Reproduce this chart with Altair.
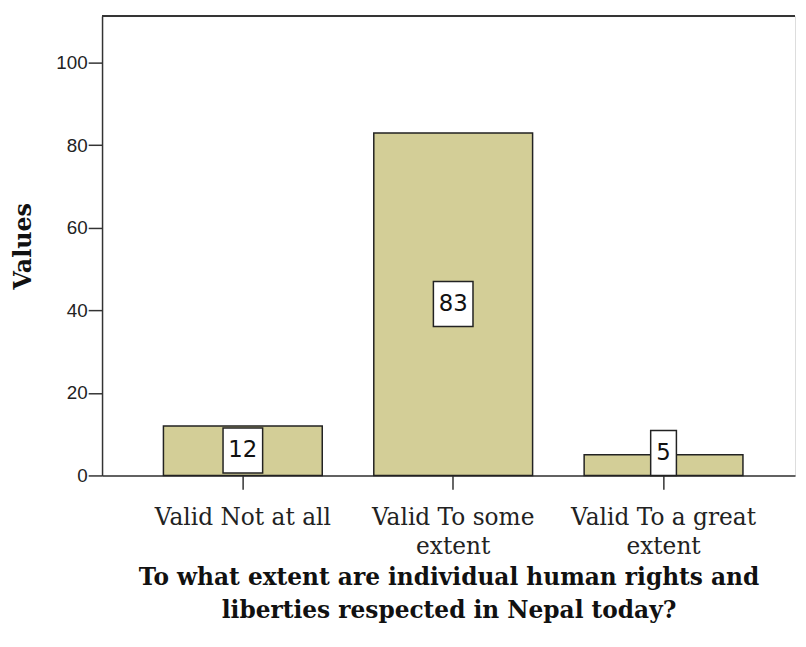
import altair as alt
import pandas as pd

categories = ["Valid Not at all", "Valid To some extent", "Valid To a great extent"]
values = [12, 83, 5]
y_ticks = [0, 20, 40, 60, 80, 100]
x_title = ["To what extent are individual human rights and", "liberties respected in Nepal today?"]
y_title = "Values"

df = pd.DataFrame({"cat": categories, "value": values})

W, H = 700, 464
BAR = "#d3ce97"
LINE = "#333333"

x_scale = alt.Scale(domain=categories, paddingInner=0.245, paddingOuter=0.2697, align=0.541)
y_scale = alt.Scale(domain=[0, 111.3], nice=False, zero=True)

x_axis = alt.Axis(
    title=x_title,
    labelExpr="datum.label == 'Valid Not at all' ? datum.label : [replace(datum.label, ' extent', ''), 'extent']",
    labelAngle=0,
    labelFont="DejaVu Serif",
    labelFontSize=23.5,
    labelColor="#222",
    labelLineHeight=29,
    labelPadding=17,
    labelLimit=400,
    tickSize=14,
    tickColor=LINE,
    tickWidth=1.5,
    domainColor=LINE,
    domainWidth=1.5,
    titleFont="DejaVu Serif",
    titleFontWeight="bold",
    titleFontSize=23.5,
    titleColor="#111",
    titleLineHeight=33,
    titlePadding=8,
)

y_axis = alt.Axis(
    title=y_title,
    values=y_ticks,
    labelFont="Liberation Sans",
    labelFontSize=19,
    labelColor="#222",
    labelPadding=1,
    tickSize=14,
    tickColor=LINE,
    tickWidth=1.5,
    domainColor=LINE,
    domainWidth=1.5,
    grid=False,
    titleFont="DejaVu Serif",
    titleFontWeight="bold",
    titleFontSize=24,
    titleColor="#111",
    titlePadding=21,
)

base = alt.Chart(df)

bars = base.mark_bar(color=BAR, stroke="#222", strokeWidth=1.5).encode(
    x=alt.X("cat:N", scale=x_scale, axis=x_axis, sort=categories),
    y=alt.Y("value:Q", scale=y_scale, axis=y_axis),
)

boxes = base.transform_calculate(
    lo="max(datum.value / 2 - 5.4, 0)",
    hi="max(datum.value / 2 - 5.4, 0) + 10.9",
    boxw="12 + 14 * length(toString(datum.value))",
).mark_bar(color="white", stroke="#222", strokeWidth=1.5).encode(
    x=alt.X("cat:N", scale=x_scale, sort=categories),
    y=alt.Y("lo:Q", scale=y_scale),
    y2="hi:Q",
    size=alt.Size("boxw:Q", scale=None, legend=None),
)

labels = base.transform_calculate(
    mid="max(datum.value / 2 - 5.4, 0) + 5.45",
).mark_text(font="DejaVu Sans", fontSize=23, color="#111", baseline="middle", align="center").encode(
    x=alt.X("cat:N", scale=x_scale, sort=categories),
    y=alt.Y("mid:Q", scale=y_scale),
    text="value:Q",
)

top_line = base.mark_rule(color=LINE, strokeWidth=1.5).encode(
    x=alt.value(0), x2=alt.value(W), y=alt.value(0)
)

chart = alt.layer(bars, boxes, labels, top_line).properties(
    width=W,
    height=H,
    autosize=alt.AutoSizeParams(type="none"),
    padding={"left": 95, "top": 5, "right": 3, "bottom": 160},
).configure_view(stroke=None).configure(background="white")

chart.save("out.html", embed_options={"renderer": "svg", "actions": False})
